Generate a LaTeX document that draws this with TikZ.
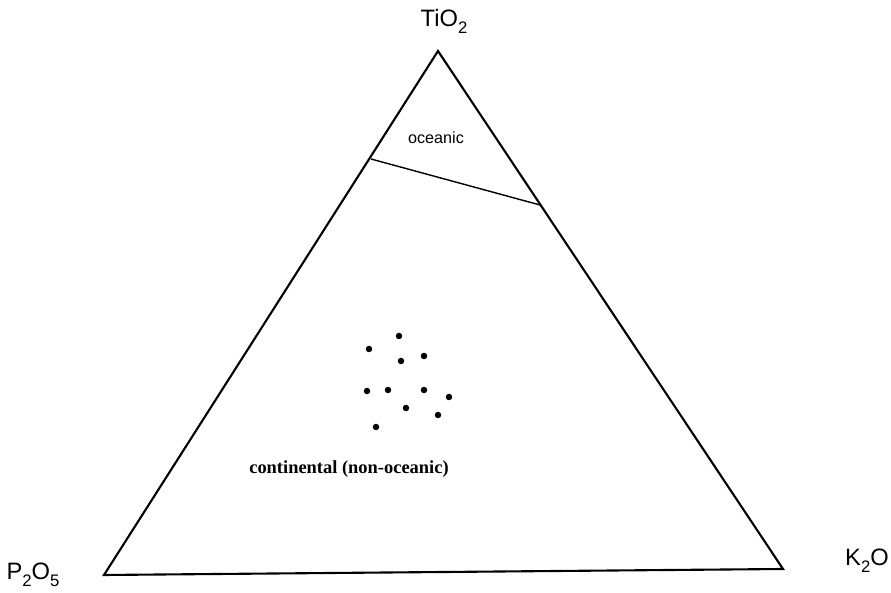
\documentclass[tikz,border=0pt]{standalone}
\usepackage{fontspec}
\setmainfont{Liberation Sans}
\newfontfamily\regionserif{Liberation Serif}
\usepackage{tikz}
\usetikzlibrary{positioning}
\newcommand{\lowsub}[1]{\raisebox{-0.55ex}{\fontsize{9.5}{10}\selectfont #1}}
\tikzstyle{apexlabel} = [inner sep=0pt, font=\fontsize{13.5}{16}\selectfont]
\tikzstyle{field} = [inner sep=0pt, font=\fontsize{9.2}{11}\selectfont]
\tikzstyle{fieldbold} = [inner sep=0pt, font=\regionserif\bfseries\fontsize{10.5}{12}\selectfont]
\tikzstyle{sample} = [circle, fill=black, inner sep=0pt, minimum size=1.3mm]
\tikzstyle{edge} = [line width=1.2pt, line join=miter]
\tikzstyle{divider} = [line width=0.8pt]

\begin{document}
\begin{tikzpicture}[x=0.2mm, y=-0.2mm]
        \useasboundingbox (0,0) rectangle (891,593);
        % corners of the ternary plot
        \coordinate (ti) at (438,51);
        \coordinate (p) at (104,575);
        \coordinate (k) at (783,569);
        \draw [edge] (ti) -- (p) -- (k) -- cycle;

        \node (tio2) [apexlabel] at (444,21) {TiO\lowsub{2}};
        \node (p2o5) [apexlabel] at (33,575) {P\lowsub{2}O\lowsub{5}};
        \node (k2o) [apexlabel] at (867,561) {K\lowsub{2}O};

        % field boundary
        \coordinate (bleft) at (371,159);
        \coordinate (bright) at (540,205);
        \draw [divider] (bleft) -- (bright);

        \node (oceanic) [field] at (436,138) {oceanic};
        \node (continental) [fieldbold] at (349,469) {continental (non-oceanic)};

        % samples
        \foreach \x/\y [count=\i] in {399/336, 369/349, 401/361, 424/356, 367/391, 388/390, 424/390, 449/397, 406/408, 438/415, 376/427}
            \node (s\i) [sample] at (\x,\y) {};
    \end{tikzpicture}
\end{document}
